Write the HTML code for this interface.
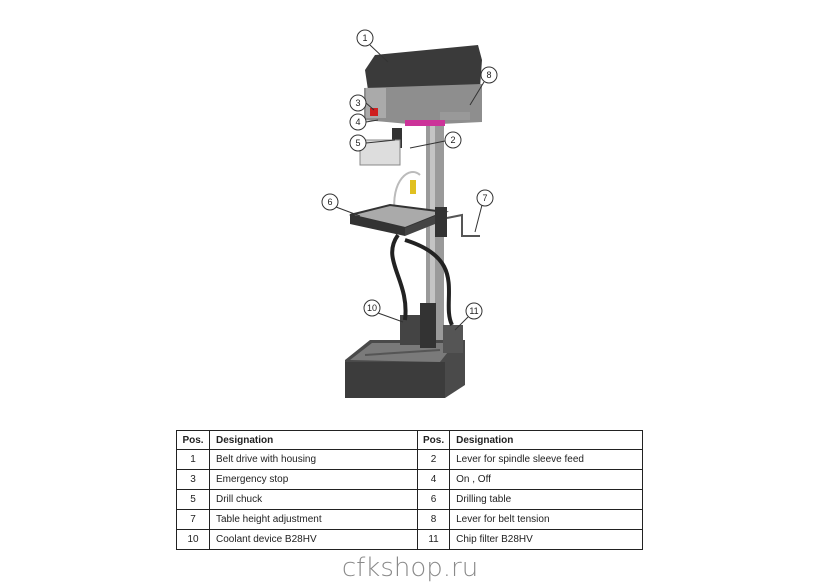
<!DOCTYPE html>
<html><head><style>
body{margin:0;background:#fff;width:820px;height:580px;position:relative;overflow:hidden;font-family:"Liberation Sans",sans-serif}
table{position:absolute;left:176px;top:430px;border-collapse:collapse;font-size:10px;color:#222}
td{border:1.5px solid #222;height:19px;padding:0 6px}
td.p{text-align:center;padding:0}
th{border:1.5px solid #222;height:18px;text-align:left;padding:0 6px;font-size:10px}
.wm{position:absolute;left:0;width:820px;top:553px;text-align:center;font-size:26px;color:#8a8a8a;font-family:"DejaVu Sans","Liberation Sans",sans-serif;font-weight:300}
</style></head><body>
<svg width="820" height="420" style="position:absolute;left:0;top:0" font-family="Liberation Sans" font-size="9">
<rect x="426" y="120" width="18" height="230" fill="#9a9a9a"/>
<rect x="430" y="120" width="5" height="230" fill="#c4c4c4"/>
<polygon points="345,360 370,340 465,340 465,385 445,398 345,398" fill="#4a4a4a"/>
<polygon points="350,360 372,343 455,343 440,362" fill="#7a7a7a"/>
<line x1="365" y1="355" x2="440" y2="350" stroke="#555" stroke-width="2"/>
<rect x="345" y="362" width="100" height="36" fill="#3c3c3c"/>
<rect x="400" y="315" width="22" height="30" fill="#444"/>
<rect x="420" y="303" width="16" height="45" fill="#333"/>
<rect x="443" y="325" width="20" height="28" fill="#555"/>
<path d="M398,235 C380,260 410,280 405,320" stroke="#222" stroke-width="4" fill="none"/>
<path d="M405,240 C470,260 440,300 452,325" stroke="#222" stroke-width="4" fill="none"/>
<path d="M395,215 C390,180 410,165 420,175" stroke="#bbb" stroke-width="2" fill="none"/>
<polygon points="350,215 390,205 445,212 405,228" fill="#aaa" stroke="#333" stroke-width="2"/>
<polygon points="350,215 405,228 405,236 350,224" fill="#333"/>
<polygon points="405,228 445,212 445,220 405,236" fill="#444"/>
<rect x="435" y="207" width="12" height="30" fill="#333"/>
<path d="M447,218 L462,215 L462,236 L480,236" stroke="#555" stroke-width="2" fill="none"/>
<rect x="410" y="180" width="6" height="14" fill="#e0c020"/>
<polygon points="365,70 375,55 478,45 482,60 480,88 368,90" fill="#3a3a3a"/>
<polygon points="364,88 482,84 482,122 420,125 364,120" fill="#8e8e8e"/>
<rect x="366" y="88" width="20" height="30" fill="#aaa"/>
<rect x="370" y="108" width="8" height="8" fill="#d02020"/>
<rect x="405" y="120" width="40" height="6" fill="#cc3399"/>
<rect x="392" y="128" width="10" height="20" fill="#333"/>
<rect x="360" y="140" width="40" height="25" fill="#ddd" stroke="#888"/>
<rect x="440" y="112" width="30" height="8" fill="#999"/>
<g stroke="#333" stroke-width="1" fill="none">
<line x1="370" y1="45" x2="388" y2="62"/>
<line x1="484" y1="82" x2="470" y2="105"/>
<line x1="366" y1="103" x2="374" y2="110"/>
<line x1="366" y1="122" x2="378" y2="120"/>
<line x1="366" y1="143" x2="395" y2="140"/>
<line x1="445" y1="141" x2="410" y2="148"/>
<line x1="336" y1="207" x2="360" y2="216"/>
<line x1="482" y1="205" x2="475" y2="232"/>
<line x1="378" y1="313" x2="403" y2="322"/>
<line x1="468" y1="317" x2="455" y2="330"/>
</g>
<g fill="#fff" stroke="#333" stroke-width="1">
<circle cx="365" cy="38" r="8"/><circle cx="489" cy="75" r="8"/><circle cx="358" cy="103" r="8"/>
<circle cx="358" cy="122" r="8"/><circle cx="358" cy="143" r="8"/><circle cx="453" cy="140" r="8"/>
<circle cx="330" cy="202" r="8"/><circle cx="485" cy="198" r="8"/><circle cx="372" cy="308" r="8"/>
<circle cx="474" cy="311" r="8"/>
</g>
<g text-anchor="middle" fill="#222">
<text x="365" y="41">1</text><text x="489" y="78">8</text><text x="358" y="106">3</text>
<text x="358" y="125">4</text><text x="358" y="146">5</text><text x="453" y="143">2</text>
<text x="330" y="205">6</text><text x="485" y="201">7</text><text x="372" y="311">10</text>
<text x="474" y="314">11</text>
</g>
</svg>
<table>
<tr><th style="width:22px;text-align:center;padding:0 5px">Pos.</th><th style="width:195px">Designation</th><th style="width:20px;text-align:center;padding:0 5px">Pos.</th><th style="width:180px">Designation</th></tr>
<tr><td class="p">1</td><td>Belt drive with housing</td><td class="p">2</td><td>Lever for spindle sleeve feed</td></tr>
<tr><td class="p">3</td><td>Emergency stop</td><td class="p">4</td><td>On , Off</td></tr>
<tr><td class="p">5</td><td>Drill chuck</td><td class="p">6</td><td>Drilling table</td></tr>
<tr><td class="p">7</td><td>Table height adjustment</td><td class="p">8</td><td>Lever for belt tension</td></tr>
<tr><td class="p">10</td><td>Coolant device B28HV</td><td class="p">11</td><td>Chip filter B28HV</td></tr>
</table>
<div class="wm">cfkshop.ru</div>
</body></html>
